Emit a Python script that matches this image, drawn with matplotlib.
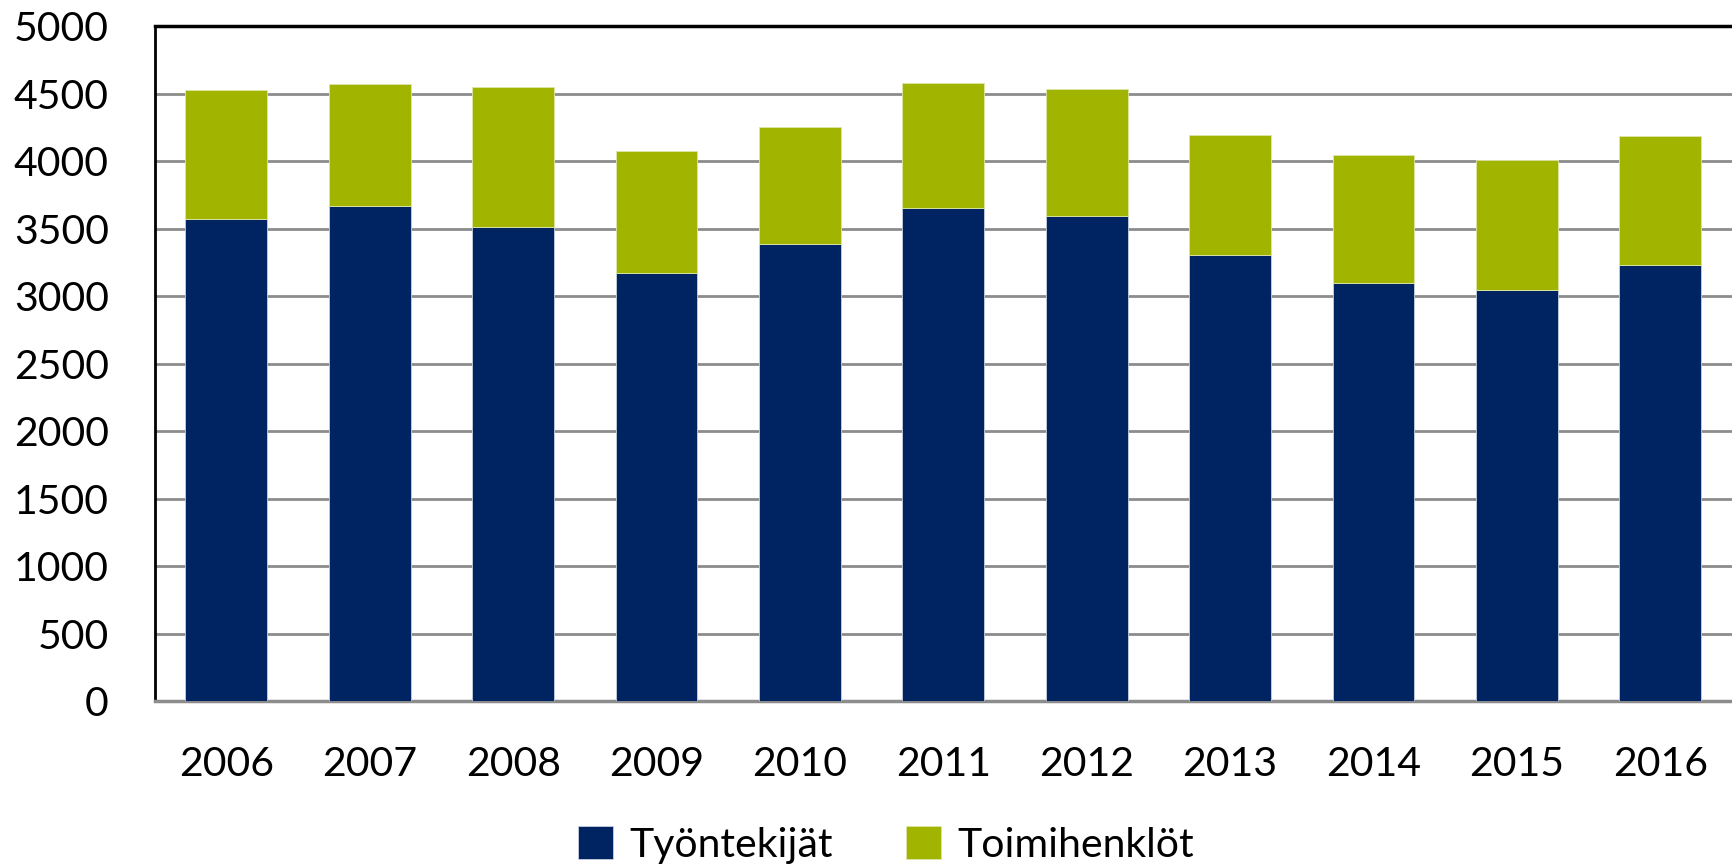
import matplotlib
matplotlib.use("Agg")
import matplotlib.pyplot as plt
import numpy as np

years = ["2006", "2007", "2008", "2009", "2010", "2011",
         "2012", "2013", "2014", "2015", "2016"]
tyontekijat = [3571, 3667, 3512, 3176, 3388, 3657, 3593, 3306, 3099, 3047, 3231]
totals = [4527, 4571, 4552, 4080, 4258, 4581, 4540, 4196, 4050, 4013, 4186]
toimihenklot = [t - w for t, w in zip(totals, tyontekijat)]
y_ticks = [0, 500, 1000, 1500, 2000, 2500, 3000, 3500, 4000, 4500, 5000]

NAVY = "#002462"
GREEN = "#a0b400"

plt.rcParams["font.family"] = ["Lato", "DejaVu Sans"]

fig = plt.figure(figsize=(17.32, 8.68), dpi=100)
ax = fig.add_axes([0.0893, 0.192, 0.9107, 0.7775])

x = np.arange(len(years))
ax.bar(x, tyontekijat, width=0.57, color=NAVY, edgecolor="#c8d0e0",
       linewidth=0.6, label="Työntekijät", zorder=3)
ax.bar(x, toimihenklot, width=0.57, bottom=tyontekijat, color=GREEN,
       edgecolor="#dde6a8", linewidth=0.6, label="Toimihenklöt", zorder=3)

ax.set_xlim(-0.5, len(years) - 0.5)
ax.set_ylim(0, 5000)
ax.set_yticks(y_ticks)
ax.set_xticks(x)
ax.set_xticklabels(years)
ax.tick_params(axis="both", length=0, labelsize=29.5)
ax.tick_params(axis="y", pad=33)
ax.tick_params(axis="x", pad=32)

ax.yaxis.grid(True, color="#8c8c8c", linewidth=2, zorder=0)
ax.set_axisbelow(True)

ax.spines["left"].set_color("black")
ax.spines["left"].set_linewidth(2)
ax.spines["top"].set_color("black")
ax.spines["top"].set_linewidth(2.5)
ax.spines["bottom"].set_color("#8c8c8c")
ax.spines["bottom"].set_linewidth(2.5)
ax.spines["right"].set_visible(False)

fig.legend(loc="center", bbox_to_anchor=(0.5115, 0.0265), ncol=2,
           frameon=False, fontsize=29.5, handlelength=0.85, handleheight=0.85,
           handletextpad=0.4, columnspacing=1.8)

fig.savefig("out.png", dpi=100)
